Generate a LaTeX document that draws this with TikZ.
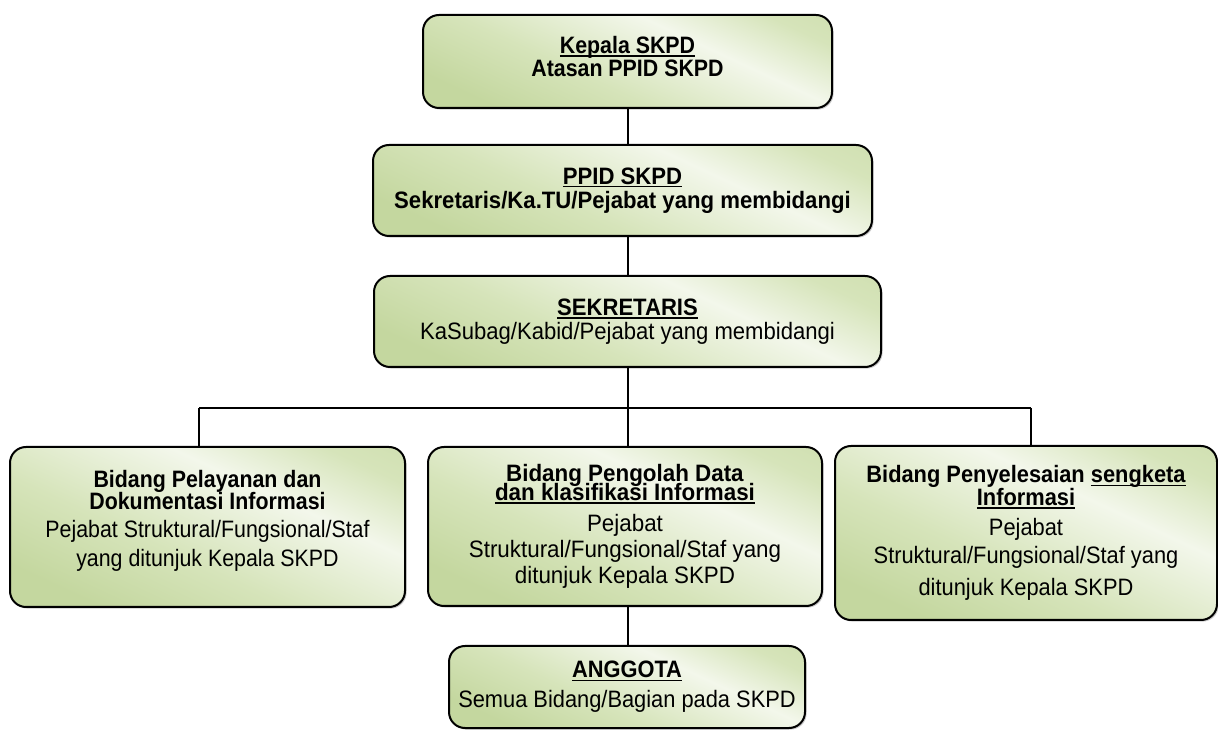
\documentclass[tikz,border=0pt]{standalone}
\usepackage{fontspec}
\setmainfont{Liberation Sans}[FakeStretch=0.9]
\newfontfamily\fPpid{Liberation Sans}[FakeStretch=0.933]
\newfontfamily\fSek{Liberation Sans}[FakeStretch=0.93]
\newfontfamily\fMid{Liberation Sans}[FakeStretch=0.943]
\newfontfamily\fRight{Liberation Sans}[FakeStretch=0.92]
\usetikzlibrary{shadows}
\definecolor{gdark}{HTML}{C4D79F}
\definecolor{gmid}{HTML}{D6E4BA}
\definecolor{glight}{HTML}{F3F7EB}
\pgfdeclareverticalshading{boxshade}{100bp}{color(0bp)=(gdark); color(25bp)=(gdark); color(42bp)=(gmid); color(62bp)=(glight); color(76bp)=(gmid); color(100bp)=(gdark)}
\newsavebox\ulbox
\newcommand\myul[1]{\sbox\ulbox{#1}\rlap{\rule[-2.4pt]{\wd\ulbox}{1.1pt}}\usebox\ulbox}
\tikzset{
  orgbox/.style={draw=black, line width=1.5pt, rounded corners=12pt,
    shading=boxshade, shading angle=-25, align=center, inner sep=2pt,
    font=\fontsize{17.8}{18}\selectfont,
    drop shadow={shadow xshift=1.2pt, shadow yshift=-1.2pt, opacity=0.3, fill=black!70}},
  ppidfont/.style={font=\fontsize{17.8}{18}\fPpid},
  sekfont/.style={font=\fontsize{17.8}{18}\fSek},
  midfont/.style={font=\fontsize{17.8}{18}\fMid},
  rightfont/.style={font=\fontsize{17.8}{18}\fRight},
  conn/.style={line width=1.5pt},
}
\begin{document}
\begin{tikzpicture}[x=0.75pt,y=-0.75pt]
\useasboundingbox (0,0) rectangle (1218,730);
\node[orgbox, minimum width=306.75pt, minimum height=69.75pt] (kep) at (627.5,61.5)
  {\textbf{\myul{Kepala SKPD}}\\[-1pt]\textbf{Atasan PPID SKPD}\rule[-7.5pt]{0pt}{7.5pt}};
\node[orgbox, ppidfont, minimum width=374.25pt, minimum height=68.25pt] (ppid) at (622.5,190.5)
  {\textbf{\myul{PPID SKPD}}\\\textbf{Sekretaris/Ka.TU/Pejabat yang membidangi}};
\node[orgbox, sekfont, minimum width=380.25pt, minimum height=68.25pt] (sek) at (627.5,321.5)
  {\textbf{\myul{SEKRETARIS}}\\KaSubag/Kabid/Pejabat yang membidangi};
\node[orgbox, minimum width=296.25pt, minimum height=120pt] (left) at (207.5,527)
  {\textbf{Bidang Pelayanan dan}\\[-1pt]\textbf{Dokumentasi Informasi}\\[3pt]Pejabat Struktural/Fungsional/Staf\\[3.5pt]yang ditunjuk Kepala SKPD\rule[-13pt]{0pt}{13pt}};
\node[orgbox, midfont, minimum width=295.5pt, minimum height=119.25pt] (mid) at (625,526.5)
  {\textbf{Bidang Pengolah Data}\\[-4pt]\textbf{\myul{dan klasifikasi Informasi}}\\[5pt]Pejabat\\[1.5pt]Struktural/Fungsional/Staf yang\\[1.5pt]ditunjuk Kepala SKPD};
\node[orgbox, rightfont, minimum width=286.5pt, minimum height=130.5pt] (right) at (1026,533)
  {\textbf{Bidang Penyelesaian \myul{sengketa}}\\[-1pt]\textbf{\myul{Informasi}}\\[4.5pt]Pejabat\\[3pt]Struktural/Fungsional/Staf yang\\[6pt]ditunjuk Kepala SKPD};
\node[orgbox, rightfont, minimum width=267pt, minimum height=61.5pt] (ang) at (627,687)
  {\textbf{\myul{ANGGOTA}}\\[4.5pt]Semua Bidang/Bagian pada SKPD};
\coordinate (bl) at (199,408);
\coordinate (br) at (1031,408);
\coordinate (cx) at (628,408);
\draw[conn] (kep.south -| cx) -- (ppid.north -| cx);
\draw[conn] (ppid.south -| cx) -- (sek.north -| cx);
\draw[conn] (sek.south -| cx) -- (cx);
\draw[conn] (bl) -- (br);
\draw[conn] (bl) -- (bl |- left.north);
\draw[conn] (cx) -- (mid.north -| cx);
\draw[conn] (br) -- (br |- right.north);
\draw[conn] (mid.south -| cx) -- (ang.north -| cx);
\end{tikzpicture}
\end{document}
